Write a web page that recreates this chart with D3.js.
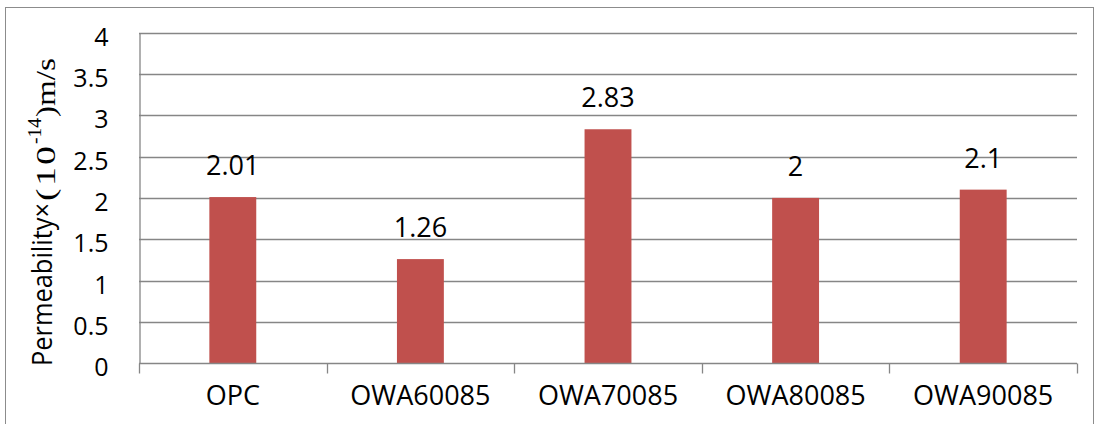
<!DOCTYPE html>
<html>
<head>
<meta charset="utf-8">
<script src="https://cdn.jsdelivr.net/npm/d3@7"></script>
<style>
  html, body { margin: 0; padding: 0; background: #fff; }
  svg { display: block; }
</style>
</head>
<body>
<svg id="chart" width="1095" height="424"></svg>
<script>
// Permeability of each mix
const categories = ["OPC", "OWA60085", "OWA70085", "OWA80085", "OWA90085"];
const permeability = [2.01, 1.26, 2.83, 2, 2.1];
const yTicks = [0, 0.5, 1, 1.5, 2, 2.5, 3, 3.5, 4];
const valueLabels = ["2.01", "1.26", "2.83", "2", "2.1"];

const W = 1095, H = 424;
const plot = { left: 139, right: 1077, top: 32.5, bottom: 363.3 };
const barColor = "#C0504D";
const lineColor = "#868686";
const serif = "'Liberation Serif', 'Times New Roman', serif";
const sans = "'Open Sans', 'Noto Sans', sans-serif";

const svg = d3.select("#chart");

// chart frame
svg.append("rect")
  .attr("x", 5.5).attr("y", 7.5)
  .attr("width", W - 7).attr("height", H)
  .attr("fill", "none").attr("stroke", "#8c8c8c").attr("stroke-width", 1);

const x = d3.scaleBand().domain(categories).range([plot.left, plot.right]).padding(0);
const y = d3.scaleLinear().domain([0, 4]).range([plot.bottom, plot.top]);

// horizontal gridlines
svg.append("g")
  .selectAll("line")
  .data(yTicks.filter(d => d > 0))
  .join("line")
  .attr("x1", plot.left).attr("x2", plot.right)
  .attr("y1", d => Math.round(y(d)) + 0.5).attr("y2", d => Math.round(y(d)) + 0.5)
  .attr("stroke", lineColor).attr("stroke-width", 1.3);

// y axis: line only, labels to the left
const yAxis = d3.axisLeft(y).tickValues(yTicks).tickSize(0).tickPadding(31)
  .tickFormat(d3.format("~g"));
const gy = svg.append("g").attr("transform", `translate(${plot.left + 0.5},0)`).call(yAxis);
gy.select(".domain").attr("stroke", lineColor).attr("stroke-width", 1.3);
gy.selectAll(".tick text")
  .style("font-family", sans)
  .style("font-size", "25px")
  .attr("dy", "0.5em")
  .attr("fill", "#000");

// bars
const barW = x.bandwidth() * 0.25;
svg.append("g")
  .selectAll("rect")
  .data(categories)
  .join("rect")
  .attr("x", (d) => x(d) + x.bandwidth() / 2 - barW / 2)
  .attr("y", (d, i) => y(permeability[i]))
  .attr("width", barW)
  .attr("height", (d, i) => y(0) - y(permeability[i]))
  .attr("fill", barColor);

// x axis with outward ticks at category boundaries
const xAxis = d3.axisBottom(x).tickSize(0).tickFormat(d => d).tickPadding(22);
const gx = svg.append("g").attr("transform", `translate(0,${Math.round(plot.bottom) + 0.5})`).call(xAxis);
gx.select(".domain").remove();
gx.selectAll(".tick text")
  .style("font-family", sans)
  .style("font-size", "27px")
  .attr("dy", "0.71em")
  .attr("fill", "#000");

const bounds = categories.map(d => x(d)).concat([x(categories[categories.length - 1]) + x.bandwidth()]);
gx.append("line")
  .attr("x1", plot.left).attr("x2", plot.right)
  .attr("y1", 0).attr("y2", 0)
  .attr("stroke", lineColor).attr("stroke-width", 1.3);
gx.selectAll(".bound")
  .data(bounds)
  .join("line")
  .attr("class", "bound")
  .attr("x1", d => Math.round(d) + 0.5).attr("x2", d => Math.round(d) + 0.5)
  .attr("y1", 0).attr("y2", 10)
  .attr("stroke", lineColor).attr("stroke-width", 1.3);

// value labels above bars
svg.append("g")
  .selectAll("text")
  .data(categories)
  .join("text")
  .attr("x", d => x(d) + x.bandwidth() / 2)
  .attr("y", (d, i) => y(permeability[i]) - 22)
  .attr("text-anchor", "middle")
  .style("font-family", sans)
  .style("font-size", "27px")
  .attr("fill", "#000")
  .text((d, i) => valueLabels[i]);

// rotated y-axis title: sans part, then serif unit with superscript exponent.
// Each run is placed along the rotated baseline and fitted to its length with a
// mild horizontal stretch plus letter spacing.
const titleParts = [
  { text: "Permeability×", font: sans,  size: 27, start: 0,   end: 163, base: 52, maxScale: 1 },
  { text: "(10",           font: serif, size: 28, start: 165, end: 220, base: 55, maxScale: 1.35 },
  { text: "-14",           font: serif, size: 18, start: 222, end: 248, base: 41, maxScale: 1.25 },
  { text: ")m/s",          font: serif, size: 28, start: 249, end: 308, base: 55, maxScale: 1.35 }
];
const title = svg.append("g").attr("transform", "translate(0,366) rotate(-90)");
titleParts.forEach(p => {
  const t = title.append("text")
    .style("font-family", p.font)
    .style("font-size", p.size + "px")
    .attr("fill", "#000")
    .text(p.text);
  const w = t.node().getComputedTextLength();
  const target = p.end - p.start;
  const s = Math.min(target / w, p.maxScale);
  const n = p.text.length - 1;
  const spacing = n > 0 ? Math.max(0, (target - w * s) / (n * s)) : 0;
  t.style("letter-spacing", spacing + "px")
   .attr("transform", `translate(${p.start},${p.base}) scale(${s},1)`);
});
</script>
</body>
</html>
